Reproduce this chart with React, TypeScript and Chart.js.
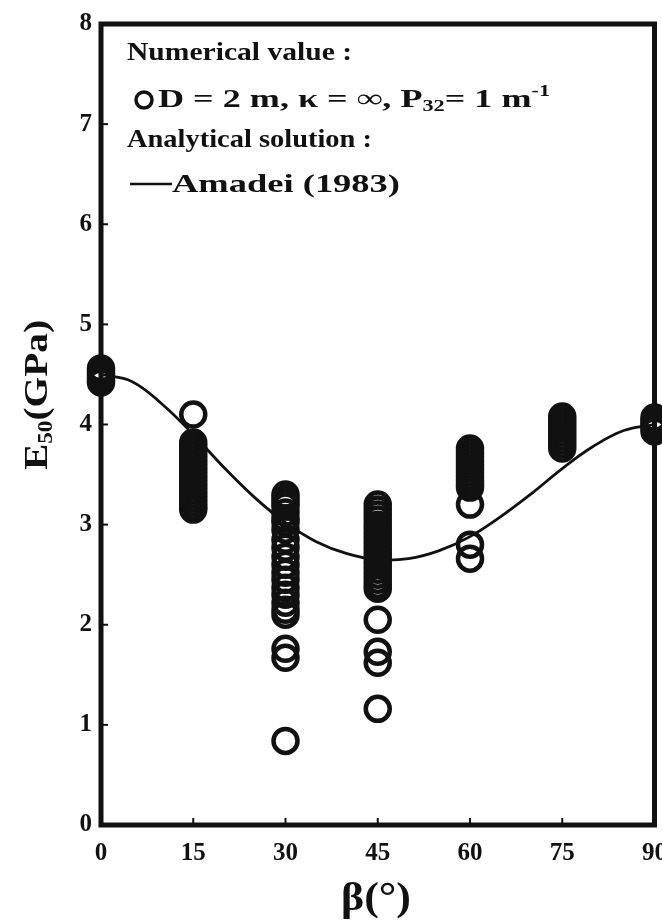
import React, { useEffect, useRef } from "react";
import { Chart, registerables } from "chart.js";

Chart.register(...registerables);

// Angles of the numerical samples (β, degrees)
const ANGLES = [0, 15, 30, 45, 60, 75, 90];

// Numerical values of E50 (GPa) at each angle
const E_AT_0 = [4.56, 4.53, 4.5, 4.47, 4.44, 4.42];
const E_AT_15 = [4.1, 3.82, 3.78, 3.74, 3.7, 3.66, 3.62, 3.58, 3.54, 3.5, 3.46, 3.42, 3.38, 3.34, 3.3, 3.26, 3.22, 3.18, 3.15];
const E_AT_30 = [3.3, 3.26, 3.22, 3.18, 3.12, 3.06, 3.02, 2.95, 2.85, 2.77, 2.68, 2.6, 2.52, 2.45, 2.37, 2.3, 2.22, 2.15, 2.1, 1.76, 1.67, 0.84];
const E_AT_45 = [3.2, 3.15, 3.1, 3.05, 3.0, 2.95, 2.9, 2.85, 2.8, 2.75, 2.7, 2.65, 2.6, 2.55, 2.5, 2.45, 2.4, 2.36, 2.05, 1.73, 1.62, 1.16];
const E_AT_60 = [3.76, 3.72, 3.68, 3.64, 3.6, 3.56, 3.52, 3.48, 3.44, 3.4, 3.37, 3.2, 2.8, 2.66];
const E_AT_75 = [4.08, 4.04, 4.0, 3.96, 3.92, 3.88, 3.84, 3.8, 3.76];
const E_AT_90 = [4.07, 4.03, 4.0, 3.97, 3.93];
const NUMERICAL = [E_AT_0, E_AT_15, E_AT_30, E_AT_45, E_AT_60, E_AT_75, E_AT_90];

// Analytical solution, Amadei (1983)
const AMADEI_BETA = [0, 5, 10, 15, 20, 25, 30, 35, 40, 45, 50, 55, 60, 65, 70, 75, 80, 85, 90];
const AMADEI_E = [4.5, 4.43, 4.2, 3.9, 3.57, 3.27, 3.02, 2.83, 2.71, 2.65, 2.66, 2.74, 2.88, 3.08, 3.31, 3.56, 3.78, 3.94, 4.0];

// Axis ticks
const X_TICKS = [0, 15, 30, 45, 60, 75, 90];
const Y_TICKS = [0, 1, 2, 3, 4, 5, 6, 7, 8];

const FONT = "'Liberation Serif', 'DejaVu Serif', serif";
const INK = "#111";

type Part = { t: string; font: string; dy: number };

// draws a run of text parts starting at (x, y), stretched horizontally to a target width
function drawRun(ctx: CanvasRenderingContext2D, parts: Part[], x: number, y: number, target: number) {
  let natural = 0;
  parts.forEach((p) => {
    ctx.font = p.font;
    natural += ctx.measureText(p.t).width;
  });
  const k = target / natural;
  ctx.save();
  ctx.translate(x, y);
  ctx.scale(k, 1);
  let cx = 0;
  parts.forEach((p) => {
    ctx.font = p.font;
    ctx.fillText(p.t, cx, p.dy);
    cx += ctx.measureText(p.t).width;
  });
  ctx.restore();
}

const decoPlugin = {
  id: "deco",
  beforeDatasetsDraw(chart: any) {
    const { ctx, chartArea: a, scales } = chart;
    ctx.save();
    ctx.strokeStyle = INK;
    ctx.lineWidth = 2;
    X_TICKS.forEach((t) => {
      const x = scales.x.getPixelForValue(t);
      ctx.beginPath();
      ctx.moveTo(x, a.bottom);
      ctx.lineTo(x, a.bottom - 7);
      ctx.stroke();
    });
    Y_TICKS.forEach((t) => {
      const y = scales.y.getPixelForValue(t);
      ctx.beginPath();
      ctx.moveTo(a.left, y);
      ctx.lineTo(a.left + 7, y);
      ctx.stroke();
    });
    ctx.lineWidth = 5;
    ctx.strokeRect(a.left, a.top, a.right - a.left, a.bottom - a.top);
    ctx.restore();
  },
  afterDraw(chart: any) {
    const { ctx } = chart;
    ctx.save();
    ctx.fillStyle = INK;
    ctx.strokeStyle = INK;
    ctx.textBaseline = "middle";
    ctx.textAlign = "left";

    const big = `bold 26px ${FONT}`;
    const small = `bold 16px ${FONT}`;
    drawRun(ctx, [{ t: "Numerical value :", font: big, dy: 0 }], 127, 53, 225);

    ctx.lineWidth = 3.5;
    ctx.beginPath();
    ctx.arc(144, 100, 8, 0, Math.PI * 2);
    ctx.stroke();

    drawRun(
      ctx,
      [
        { t: "D = 2 m, κ = ∞, P", font: big, dy: 0 },
        { t: "32", font: small, dy: 7 },
        { t: "= 1 m", font: big, dy: 0 },
        { t: "-1", font: small, dy: -8 },
      ],
      158,
      100,
      392
    );

    drawRun(ctx, [{ t: "Analytical solution :", font: big, dy: 0 }], 127, 140, 245);

    ctx.lineWidth = 2.5;
    ctx.beginPath();
    ctx.moveTo(130, 184);
    ctx.lineTo(172, 184);
    ctx.stroke();
    drawRun(ctx, [{ t: "Amadei (1983)", font: big, dy: 0 }], 172, 185, 228);

    // Y axis title
    ctx.save();
    ctx.translate(38, 395);
    ctx.rotate(-Math.PI / 2);
    const tBig = `bold 34px ${FONT}`;
    const tSmall = `bold 20px ${FONT}`;
    const yParts: Part[] = [
      { t: "E", font: tBig, dy: 0 },
      { t: "50", font: tSmall, dy: 9 },
      { t: "(GPa)", font: tBig, dy: 0 },
    ];
    drawRun(ctx, yParts, -75, 0, 150);
    ctx.restore();

    // X axis title
    drawRun(ctx, [{ t: "β(°)", font: `bold 40px ${FONT}`, dy: 0 }], 341, 900, 70);
    ctx.restore();
  },
};

const CANVAS_W = 681;
const CANVAS_H = 923;

export default function App() {
  const ref = useRef<HTMLCanvasElement | null>(null);

  useEffect(() => {
    if (!ref.current) return;
    const points = ANGLES.flatMap((ang, i) => NUMERICAL[i].map((v) => ({ x: ang, y: v })));
    const line = AMADEI_BETA.map((b, i) => ({ x: b, y: AMADEI_E[i] }));
    const tickFont = { family: FONT, size: 25, weight: "bold" as const };

    const chart = new Chart(ref.current, {
      type: "scatter",
      data: {
        datasets: [
          {
            type: "line",
            label: "Amadei (1983)",
            data: line,
            borderColor: INK,
            borderWidth: 2.8,
            pointRadius: 0,
            tension: 0.4,
            fill: false,
            order: 2,
          } as any,
          {
            label: "Numerical value",
            data: points,
            pointStyle: "circle",
            pointRadius: 12,
            borderWidth: 4.5,
            borderColor: INK,
            backgroundColor: "rgba(0,0,0,0)",
            clip: false,
            order: 1,
          } as any,
        ],
      },
      options: {
        responsive: false,
        animation: false,
        devicePixelRatio: 1,
        layout: { padding: { top: 22, right: 0, bottom: 0, left: 0 } },
        plugins: { legend: { display: false }, tooltip: { enabled: false } },
        scales: {
          x: {
            type: "linear",
            min: 0,
            max: 90,
            afterBuildTicks: (s: any) => {
              s.ticks = X_TICKS.map((v) => ({ value: v }));
            },
            afterFit: (s: any) => {
              s.height = 98;
            },
            ticks: { font: tickFont, color: INK, padding: 14, maxRotation: 0, autoSkip: false },
            grid: { display: false, drawTicks: false },
            border: { display: false },
          },
          y: {
            type: "linear",
            min: 0,
            max: 8,
            afterBuildTicks: (s: any) => {
              s.ticks = Y_TICKS.map((v) => ({ value: v }));
            },
            afterFit: (s: any) => {
              s.width = 101;
            },
            ticks: { font: tickFont, color: INK, padding: 9, autoSkip: false },
            grid: { display: false, drawTicks: false },
            border: { display: false },
          },
        },
      } as any,
      plugins: [decoPlugin],
    });
    return () => chart.destroy();
  }, []);

  return (
    <div
      style={{
        position: "fixed",
        left: 0,
        top: 0,
        width: 662,
        height: CANVAS_H,
        overflow: "hidden",
        background: "#fff",
      }}
    >
      <canvas ref={ref} width={CANVAS_W} height={CANVAS_H} style={{ display: "block" }} />
    </div>
  );
}
